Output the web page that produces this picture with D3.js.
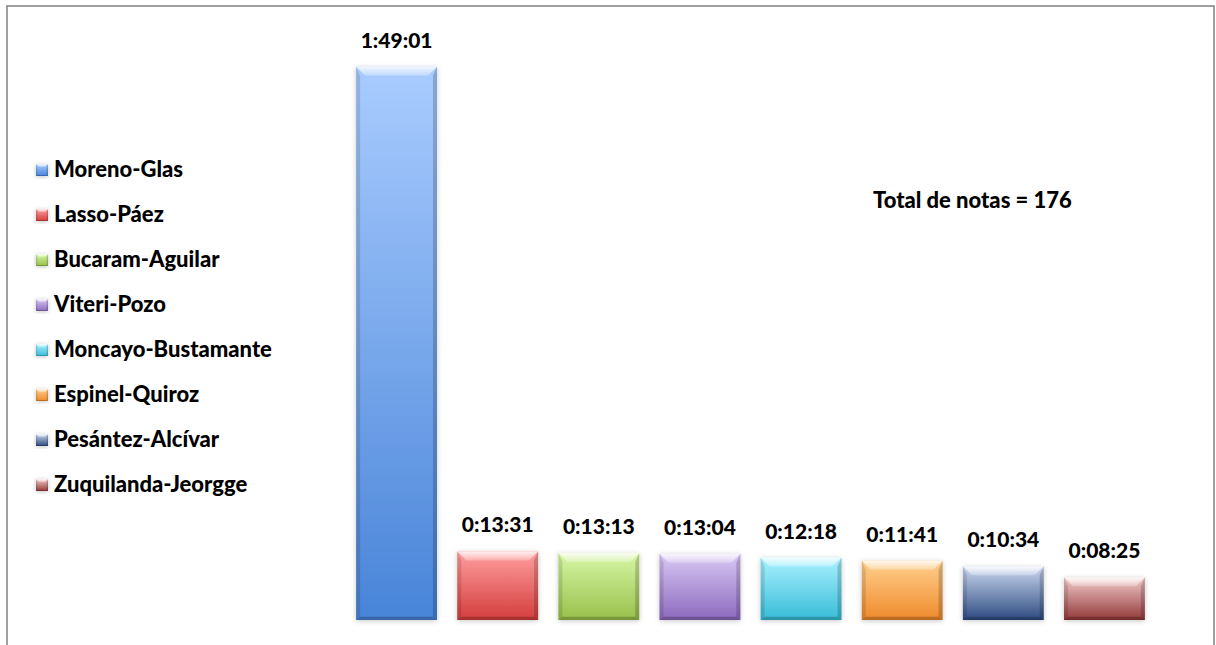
<!DOCTYPE html>
<html>
<head>
<meta charset="utf-8">
<script src="https://cdn.jsdelivr.net/npm/d3@7"></script>
<style>
  html, body { margin: 0; padding: 0; background: #fff; }
  svg { display: block; }
  text { font-family: Lato, "Open Sans", sans-serif; font-weight: 900; fill: #000; }
</style>
</head>
<body>
<svg id="chart" width="1216" height="645"></svg>
<script>
// ---- data ----
const categories = ["Moreno-Glas", "Lasso-Páez", "Bucaram-Aguilar", "Viteri-Pozo",
  "Moncayo-Bustamante", "Espinel-Quiroz", "Pesántez-Alcívar", "Zuquilanda-Jeorgge"];
const durations = ["1:49:01", "0:13:31", "0:13:13", "0:13:04", "0:12:18", "0:11:41", "0:10:34", "0:08:25"];
const annotation = "Total de notas = 176";

// ---- palette ----
const topColors = ["#a9ccff", "#ff9e9e", "#d7f7a6", "#d9c8f4", "#aaf1ff", "#ffd08e", "#cbd7ef", "#f2cbcb"];
const bottomColors = ["#4884d8", "#d43d3d", "#98bf4a", "#8b69bd", "#38bcd8", "#ef8a2b", "#2c4b80", "#933838"];

const toSeconds = s => s.split(":").map(Number).reduce((a, v) => a * 60 + v, 0);
const values = durations.map(toSeconds);

const svg = d3.select("#chart");
const defs = svg.append("defs");

categories.forEach((c, i) => {
  const g = defs.append("linearGradient").attr("id", "grad" + i)
    .attr("x1", 0).attr("y1", 0).attr("x2", 0).attr("y2", 1);
  g.append("stop").attr("offset", "0%").attr("stop-color", topColors[i]);
  g.append("stop").attr("offset", "100%").attr("stop-color", bottomColors[i]);
});
const hl = defs.append("linearGradient").attr("id", "hl").attr("x1", 0).attr("y1", 0).attr("x2", 0).attr("y2", 1);
hl.append("stop").attr("offset", "0%").attr("stop-color", "#fff").attr("stop-opacity", 0.85);
hl.append("stop").attr("offset", "100%").attr("stop-color", "#fff").attr("stop-opacity", 0.25);
const sh = defs.append("filter").attr("id", "shadow").attr("x", "-20%").attr("y", "-20%").attr("width", "140%").attr("height", "140%");
sh.append("feDropShadow").attr("dx", 0).attr("dy", 1).attr("stdDeviation", 2.5)
  .attr("flood-color", "#000").attr("flood-opacity", 0.22);

// chart border
svg.append("rect").attr("x", 7).attr("y", 6).attr("width", 1207).attr("height", 680)
  .attr("fill", "#fff").attr("stroke", "#878787").attr("stroke-width", 1.6);

// scales
const x = d3.scaleBand().domain(categories).range([346, 1155]).paddingInner(0.2).paddingOuter(0.1);
const y = d3.scaleLinear().domain([0, 7200]).range([620, 11]);

function drawBevel(g, x0, y0, w, h, b, i) {
  g.append("rect").attr("x", x0).attr("y", y0).attr("width", w).attr("height", h)
    .attr("fill", `url(#grad${i})`).attr("filter", "url(#shadow)");
  // top highlight
  g.append("path").attr("d", `M${x0},${y0}H${x0 + w}L${x0 + w - b},${y0 + b}H${x0 + b}Z`)
    .attr("fill", "url(#hl)");
  // left/right edges
  g.append("path").attr("d", `M${x0},${y0}L${x0 + b * 0.45},${y0 + b}V${y0 + h - b * 0.35}L${x0},${y0 + h}Z`)
    .attr("fill", "#000").attr("opacity", 0.12);
  g.append("path").attr("d", `M${x0 + w},${y0}L${x0 + w - b * 0.45},${y0 + b}V${y0 + h - b * 0.35}L${x0 + w},${y0 + h}Z`)
    .attr("fill", "#000").attr("opacity", 0.18);
  // bottom edge
  g.append("path").attr("d", `M${x0},${y0 + h}L${x0 + b * 0.45},${y0 + h - b * 0.35}H${x0 + w - b * 0.45}L${x0 + w},${y0 + h}Z`)
    .attr("fill", "#000").attr("opacity", 0.22);
}

const bars = svg.append("g");
categories.forEach((c, i) => {
  const x0 = x(c), y0 = y(values[i]), w = x.bandwidth(), h = y(0) - y(values[i]);
  drawBevel(bars.append("g"), x0, y0, w, h, 9, i);
});

// value labels
svg.append("g").selectAll("text").data(categories).join("text")
  .attr("x", d => x(d) + x.bandwidth() / 2)
  .attr("y", (d, i) => y(values[i]) - 19)
  .attr("text-anchor", "middle")
  .attr("font-size", 21)
  .text((d, i) => durations[i]);

// legend
const leg = svg.append("g");
categories.forEach((c, i) => {
  const by = 177 + i * 45;
  drawBevel(leg.append("g"), 36, by - 13, 12, 12, 3, i);
  leg.append("text").attr("x", 54).attr("y", by).attr("font-size", 22).text(c);
});

// annotation
svg.append("text").attr("x", 873).attr("y", 208).attr("font-size", 22).text(annotation);
</script>
</body>
</html>
